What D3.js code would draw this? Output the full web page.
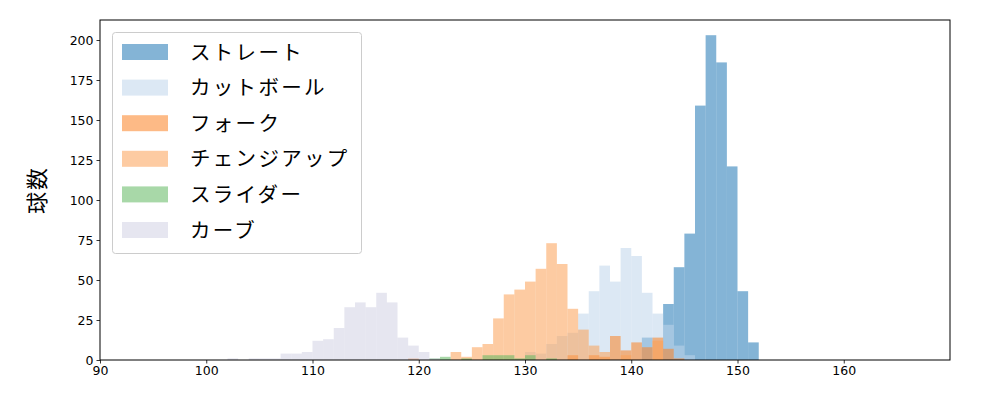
<!DOCTYPE html>
<html>
<head>
<meta charset="utf-8">
<script src="https://cdn.jsdelivr.net/npm/d3@7"></script>
<style>
  body { margin: 0; background: #fff; }
  svg { display: block; }
</style>
</head>
<body>
<svg id="chart"></svg>
<script>
// pitch types, legend order = draw order
let pitches = ["ストレート", "カットボール", "フォーク", "チェンジアップ", "スライダー", "カーブ"];
let colors = ["#1f77b4", "#bfd5eb", "#fb8223", "#fba056", "#61b861", "#d2d2e4"];

// each bin is [start speed, count], bin width 1 km/h
let straight = [[141, 14], [143, 35], [144, 58], [145, 79], [146, 159], [147, 203], [148, 186], [149, 121], [150, 43], [151, 11]];
let cutball = [[130, 5], [131, 4], [132, 10], [133, 15], [134, 17], [135, 29], [136, 43], [137, 59], [138, 49], [139, 70], [140, 65], [141, 42], [142, 29], [143, 22], [144, 9], [145, 3]];
let fork = [[119, 1], [134, 3], [136, 3], [137, 2], [138, 15], [139, 6], [140, 11], [141, 8], [142, 14], [143, 7], [144, 1]];
let changeup = [[123, 5], [124, 2], [125, 8], [126, 10], [127, 26], [128, 41], [129, 44], [130, 49], [131, 57], [132, 73], [133, 60], [134, 32], [135, 19], [136, 9], [137, 5], [139, 3], [142, 12]];
let slider = [[121, 1], [122, 2], [124, 1], [126, 3], [127, 3], [128, 3], [129, 1], [130, 3], [132, 1]];
let curve = [[102, 1], [104, 1], [105, 1], [106, 1], [107, 4], [108, 4], [109, 5], [110, 12], [111, 13], [112, 20], [113, 33], [114, 36], [115, 33], [116, 42], [117, 36], [118, 14], [119, 9], [120, 5], [121, 1]];

let series = [straight, cutball, fork, changeup, slider, curve];

let xTicks = [90, 100, 110, 120, 130, 140, 150, 160];
let yTicks = [0, 25, 50, 75, 100, 125, 150, 175, 200];

let w = 1000;
let h = 400;
let margin = {top: 20, right: 50, bottom: 40, left: 100};
let alpha = 0.55;

let svg = d3.select("#chart")
  .attr("width", w)
  .attr("height", h);

let scalex = d3.scaleLinear()
  .domain([90, 170])
  .range([margin.left, w - margin.right]);

let scaley = d3.scaleLinear()
  .domain([0, 212.5])
  .range([h - margin.bottom, margin.top]);

// bars
series.forEach((s, i) => {
  svg.append("g")
    .selectAll("rect")
    .data(s)
    .enter()
    .append("rect")
    .attr("x", d => scalex(d[0]))
    .attr("width", d => scalex(d[0] + 1) - scalex(d[0]))
    .attr("y", d => scaley(d[1]))
    .attr("height", d => scaley(0) - scaley(d[1]))
    .attr("fill", colors[i])
    .attr("fill-opacity", alpha);
});

// axes
let xAxis = d3.axisBottom(scalex).tickValues(xTicks).tickSize(3.5).tickPadding(3);
let yAxis = d3.axisLeft(scaley).tickValues(yTicks).tickSize(3.5).tickPadding(3);

let gx = svg.append("g")
  .attr("transform", "translate(0," + (h - margin.bottom) + ")")
  .call(xAxis);
let gy = svg.append("g")
  .attr("transform", "translate(" + margin.left + ",0)")
  .call(yAxis);

[gx, gy].forEach(g => {
  g.select(".domain").remove();
  g.selectAll("line").attr("stroke", "#000").attr("stroke-width", 0.8);
  g.selectAll("text")
    .attr("font-family", "DejaVu Sans, sans-serif")
    .attr("font-size", "12.5px")
    .attr("fill", "#000");
});

// frame
svg.append("rect")
  .attr("x", margin.left)
  .attr("y", margin.top)
  .attr("width", w - margin.left - margin.right)
  .attr("height", h - margin.top - margin.bottom)
  .attr("fill", "none")
  .attr("stroke", "#000")
  .attr("stroke-width", 1);

// y label
svg.append("text")
  .attr("transform", "translate(45," + ((margin.top + h - margin.bottom) / 2) + ") rotate(-90)")
  .attr("text-anchor", "middle")
  .attr("font-family", "Noto Sans CJK JP, sans-serif")
  .attr("font-size", "22px")
  .attr("letter-spacing", "2px")
  .text("球数");

// legend
let legend = svg.append("g");
legend.append("rect")
  .attr("x", 112.5)
  .attr("y", 32.5)
  .attr("width", 249)
  .attr("height", 221)
  .attr("rx", 3)
  .attr("fill", "#fff")
  .attr("fill-opacity", 0.8)
  .attr("stroke", "#ccc");

let rowy = d3.scaleLinear().domain([0, 5]).range([52, 230]);

legend.selectAll(".legend-item")
  .data(pitches)
  .enter()
  .append("rect")
  .attr("class", "legend-item")
  .attr("x", 122)
  .attr("y", (d, i) => rowy(i) - 8)
  .attr("width", 46)
  .attr("height", 16)
  .attr("fill", (d, i) => colors[i])
  .attr("fill-opacity", alpha);

legend.selectAll(".legend-text")
  .data(pitches)
  .enter()
  .append("text")
  .attr("class", "legend-text")
  .attr("x", 190)
  .attr("y", (d, i) => rowy(i) + 7.5)
  .attr("font-family", "Noto Sans CJK JP, sans-serif")
  .attr("font-size", "20.5px")
  .attr("letter-spacing", "2.3px")
  .attr("fill", "#000")
  .text(d => d);
</script>
</body>
</html>
